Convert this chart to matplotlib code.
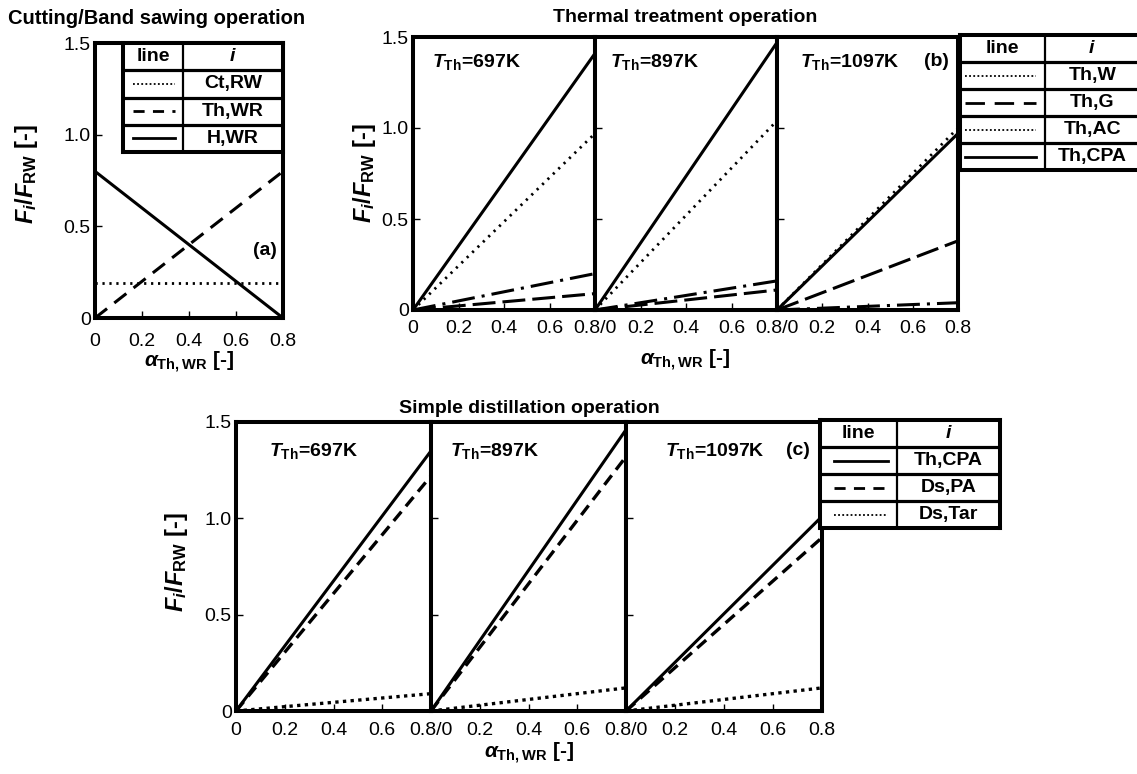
import matplotlib.pyplot as plt

plt.rcParams['font.family'] = ['Liberation Sans', 'DejaVu Sans']
plt.rcParams['mathtext.fontset'] = 'custom'
plt.rcParams['mathtext.rm'] = 'Liberation Sans:bold'
plt.rcParams['mathtext.it'] = 'Liberation Sans:italic:bold'
plt.rcParams['mathtext.bf'] = 'Liberation Sans:bold'

# data (straight lines from alpha=0 to alpha=0.8)
alpha = [0.0, 0.8]

# (a) cutting / band sawing
a_ct_rw = [0.19, 0.19]
a_th_wr = [0.0, 0.8]
a_h_wr = [0.8, 0.0]

# (b) thermal treatment, value at alpha=0.8 for each temperature
temps = ['697K', '897K', '1097K']
b_th_w = [0.97, 1.04, 1.00]
b_th_g = [0.09, 0.11, 0.38]
b_th_ac = [0.20, 0.16, 0.04]
b_th_cpa = [1.41, 1.47, 0.97]

# (c) simple distillation, value at alpha=0.8
c_th_cpa = [1.35, 1.46, 1.01]
c_ds_pa = [1.22, 1.32, 0.90]
c_ds_tar = [0.09, 0.12, 0.12]

x_ticks = [0, 0.2, 0.4, 0.6, 0.8]
y_ticks = [0, 0.5, 1.0, 1.5]
y_ticklabels = ['0', '0.5', '1.0', '1.5']

W, H = 1137, 774
fig = plt.figure(figsize=(W / 100, H / 100), dpi=100)


def px_axes(x0, y0, x1, y1):
    # pixel box (left, top, right, bottom) -> figure axes
    return fig.add_axes([x0 / W, 1 - y1 / H, (x1 - x0) / W, (y1 - y0) / H])


def style(ax, first, xlabels, xpad):
    ax.set_xlim(0, 0.8)
    ax.set_ylim(0, 1.5)
    ax.set_xticks(x_ticks)
    ax.set_xticklabels(xlabels)
    ax.set_yticks(y_ticks)
    ax.set_yticklabels(y_ticklabels if first else [])
    ax.tick_params(axis='both', direction='in', length=5, width=1, labelsize=14)
    ax.tick_params(axis='x', pad=xpad)
    ax.tick_params(axis='y', pad=3)
    for s in ax.spines.values():
        s.set_linewidth(2.9)


def make_legend(box, col, rows, x0=0.1, head=('line', 'i')):
    lg = px_axes(*box)
    n = len(rows) + 1
    lg.set_xlim(0, 1)
    lg.set_ylim(n, 0)
    lg.set_xticks([])
    lg.set_yticks([])
    for s in lg.spines.values():
        s.set_linewidth(2.9)
    lg.axvline(col, color='black', lw=1.6)
    for k in range(1, n):
        lg.axhline(k, color='black', lw=2.3)
    lg.text(col / 2, 0.5, head[0], ha='center', va='center', fontsize=14, fontweight='bold')
    lg.text((col + 1) / 2, 0.5, '$' + head[1] + '$', ha='center', va='center', fontsize=14)
    for k, (name, kw) in enumerate(rows):
        y = k + 1.5
        lg.plot([x0, col - 0.05], [y, y], color='black', **kw)
        lg.text((col + 1) / 2, y, name, ha='center', va='center', fontsize=14, fontweight='bold')
    return lg


# ---------------- (a) ----------------
ax_a = px_axes(95, 43, 283, 318)
ax_a.plot(alpha, a_ct_rw, color='black', lw=2.0, linestyle=(0, (0.8, 1.7)))
ax_a.plot(alpha, a_th_wr, color='black', lw=2.2, linestyle=(0, (5, 3)))
ax_a.plot(alpha, a_h_wr, color='black', lw=2.2)
style(ax_a, True, ['0', '0.2', '0.4', '0.6', '0.8'], 11)
ax_a.text(0.775, 0.37, '(a)', ha='right', va='center', fontsize=14, fontweight='bold')
make_legend((123, 43, 283, 152), 0.375, [
    ('Ct,RW', dict(lw=1.3, linestyle=(0, (1, 1.3)))),
    ('Th,WR', dict(lw=2.0, linestyle=(0, (4, 3)))),
    ('H,WR', dict(lw=2.0)),
], x0=0.06)
fig.text(8 / W, 1 - 19 / H, 'Cutting/Band sawing operation', ha='left', va='center',
         fontsize=14.5, fontweight='bold')
fig.text(26 / W, 1 - 174 / H, r'$F_i/F_{\mathrm{RW}}$ [-]', rotation=90, ha='center',
         va='center', fontsize=17, fontweight='bold')
fig.text(189 / W, 1 - 362 / H, r'$\alpha_{\mathrm{Th,WR}}$ [-]', ha='center', va='center',
         fontsize=15, fontweight='bold')

# ---------------- (b) ----------------
b_edges = [413, 595, 777, 958]
b_tx = [0.084, 0.066, 0.10]
mid_labels = ['', '0.2', '0.4', '0.6', '0.8/0']
for j in range(3):
    ax = px_axes(b_edges[j], 37, b_edges[j + 1], 310)
    ax.plot(alpha, [0, b_th_w[j]], color='black', lw=2.0, linestyle=(0, (0.8, 1.9)))
    ax.plot(alpha, [0, b_th_g[j]], color='black', lw=2.2, linestyle=(0, (7.5, 2.3)))
    ax.plot(alpha, [0, b_th_ac[j]], color='black', lw=2.2, linestyle=(0, (7.5, 2.3, 1, 2.3)))
    ax.plot(alpha, [0, b_th_cpa[j]], color='black', lw=2.2)
    if j == 0:
        labels = ['0', '0.2', '0.4', '0.6', '0.8/0']
    elif j == 2:
        labels = ['', '0.2', '0.4', '0.6', '0.8']
    else:
        labels = mid_labels
    style(ax, j == 0, labels, 7)
    ax.text(b_tx[j], 1.363, r'$T_{\mathrm{Th}}$=' + temps[j], ha='left',
            va='center', fontsize=14, fontweight='bold')
    if j == 2:
        ax.text(0.76, 1.363, '(b)', ha='right', va='center', fontsize=14, fontweight='bold')
make_legend((960, 35, 1140, 170), 0.47, [
    ('Th,W', dict(lw=1.3, linestyle=(0, (1, 1.3)))),
    ('Th,G', dict(lw=2.0, linestyle=(0, (7, 3.5)))),
    ('Th,AC', dict(lw=1.3, linestyle=(0, (1, 1.3)))),
    ('Th,CPA', dict(lw=2.0)),
], x0=0.03)
fig.text(685 / W, 1 - 17 / H, 'Thermal treatment operation', ha='center', va='center',
         fontsize=14, fontweight='bold')
fig.text(364 / W, 1 - 173 / H, r'$F_i/F_{\mathrm{RW}}$ [-]', rotation=90, ha='center',
         va='center', fontsize=17, fontweight='bold')
fig.text(685 / W, 1 - 360 / H, r'$\alpha_{\mathrm{Th,WR}}$ [-]', ha='center', va='center',
         fontsize=15, fontweight='bold')

# ---------------- (c) ----------------
c_edges = [236, 431, 626, 822]
c_tx = [0.135, 0.08, 0.16]
for j in range(3):
    ax = px_axes(c_edges[j], 422, c_edges[j + 1], 711)
    ax.plot(alpha, [0, c_th_cpa[j]], color='black', lw=2.2)
    ax.plot(alpha, [0, c_ds_pa[j]], color='black', lw=2.4, linestyle=(0, (3.6, 2.1)))
    ax.plot(alpha, [0, c_ds_tar[j]], color='black', lw=2.4, linestyle=(0, (1, 1.3)))
    if j == 0:
        labels = ['0', '0.2', '0.4', '0.6', '0.8/0']
    elif j == 2:
        labels = ['', '0.2', '0.4', '0.6', '0.8']
    else:
        labels = mid_labels
    style(ax, j == 0, labels, 8)
    ax.text(c_tx[j], 1.35, r'$T_{\mathrm{Th}}$=' + temps[j], ha='left',
            va='center', fontsize=14, fontweight='bold')
    if j == 2:
        ax.text(0.75, 1.35, '(c)', ha='right', va='center', fontsize=14, fontweight='bold')
make_legend((820, 420, 1000, 528), 0.43, [
    ('Th,CPA', dict(lw=2.0)),
    ('Ds,PA', dict(lw=2.0, linestyle=(0, (4, 3)))),
    ('Ds,Tar', dict(lw=1.3, linestyle=(0, (1, 1.3)))),
], x0=0.08)
fig.text(529 / W, 1 - 408 / H, 'Simple distillation operation', ha='center', va='center',
         fontsize=14, fontweight='bold')
fig.text(177 / W, 1 - 562 / H, r'$F_i/F_{\mathrm{RW}}$ [-]', rotation=90, ha='center',
         va='center', fontsize=17, fontweight='bold')
fig.text(529 / W, 1 - 753 / H, r'$\alpha_{\mathrm{Th,WR}}$ [-]', ha='center', va='center',
         fontsize=15, fontweight='bold')

fig.savefig('out.png', dpi=100)
